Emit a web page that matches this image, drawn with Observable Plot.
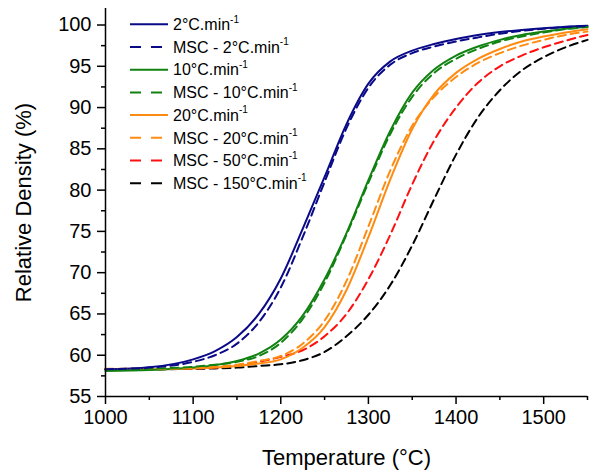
<!DOCTYPE html>
<html>
<head>
<meta charset="utf-8">
<script src="https://cdn.jsdelivr.net/npm/d3@7"></script>
<script src="https://cdn.jsdelivr.net/npm/@observablehq/plot@0.6"></script>
<style>
  html, body { margin: 0; padding: 0; background: #fff; }
  #chart { width: 594px; height: 471px; }
</style>
</head>
<body>
<div id="chart"></div>
<script>
// Temperature grid (°C)
const temps = [1000, 1050, 1100, 1125, 1150, 1175, 1200, 1225, 1250, 1275, 1300, 1325, 1350, 1375, 1400, 1425, 1450, 1475, 1500, 1525, 1550];

// Relative density (%) for each series
const exp2    = [58.3, 58.55, 59.5, 60.5, 62.2, 65.0, 69.3, 75.3, 81.6, 88.0, 92.9, 95.6, 96.9, 97.7, 98.3, 98.8, 99.15, 99.4, 99.6, 99.8, 99.9];
const msc2    = [58.3, 58.5, 59.2, 60.0, 61.4, 64.0, 68.2, 74.3, 81.0, 87.5, 92.4, 95.2, 96.6, 97.4, 98.0, 98.5, 98.95, 99.3, 99.55, 99.75, 99.85];
const exp10   = [58.1, 58.2, 58.5, 58.8, 59.3, 60.2, 61.9, 64.8, 69.2, 74.8, 81.2, 87.2, 91.8, 94.6, 96.3, 97.4, 98.2, 98.8, 99.2, 99.55, 99.8];
const msc10   = [58.25, 58.35, 58.6, 58.85, 59.2, 59.9, 61.5, 64.4, 68.8, 74.6, 80.9, 86.8, 91.3, 94.2, 95.9, 97.1, 98.0, 98.6, 99.1, 99.5, 99.75];
const exp20   = [58.3, 58.3, 58.4, 58.5, 58.7, 59.0, 59.5, 60.9, 63.4, 67.9, 74.3, 81.3, 87.4, 91.6, 94.2, 95.9, 97.1, 98.0, 98.6, 99.1, 99.5];
const msc20   = [58.35, 58.35, 58.45, 58.6, 58.85, 59.3, 59.9, 61.4, 64.2, 69.0, 75.6, 82.4, 87.8, 91.3, 93.7, 95.4, 96.6, 97.5, 98.2, 98.8, 99.2];
const msc50   = [58.3, 58.3, 58.4, 58.5, 58.8, 59.2, 59.8, 60.6, 62.3, 65.0, 69.2, 74.6, 80.7, 86.0, 90.0, 93.0, 95.0, 96.3, 97.3, 98.1, 98.8];
const msc150  = [58.3, 58.3, 58.35, 58.4, 58.5, 58.7, 58.9, 59.4, 60.4, 62.3, 64.9, 68.5, 73.3, 78.9, 84.3, 88.8, 92.1, 94.5, 96.1, 97.3, 98.2];

// Series names (legend order) and styling
const seriesNames = ["2°C.min", "MSC - 2°C.min", "10°C.min", "MSC - 10°C.min", "20°C.min", "MSC - 20°C.min", "MSC - 50°C.min", "MSC - 150°C.min"];
const seriesValues = [exp2, msc2, exp10, msc10, exp20, msc20, msc50, msc150];
const seriesColors = ["#0a0a88", "#0a0a88", "#118211", "#118211", "#ff8c12", "#ff8c12", "#ff1010", "#000000"];
const seriesDashed = [false, true, false, true, false, true, true, true];

// Axis ticks
const xTicks = [1000, 1100, 1200, 1300, 1400, 1500];
const xMinor = [1050, 1150, 1250, 1350, 1450, 1550];
const yTicks = [55, 60, 65, 70, 75, 80, 85, 90, 95, 100];
const yMinor = [57.5, 62.5, 67.5, 72.5, 77.5, 82.5, 87.5, 92.5, 97.5];

const xLabel = "Temperature (°C)";
const yLabel = "Relative Density (%)";

const rows = [];
seriesNames.forEach((name, i) => {
  temps.forEach((t, j) => rows.push({series: name, idx: i, t, v: seriesValues[i][j]}));
});

// drawing order: solid first, then dashed on top
const order = [7, 6, 4, 2, 0, 5, 3, 1];
const lineMarks = order.map(i => Plot.line(rows.filter(d => d.idx === i), {
  x: "t", y: "v",
  stroke: seriesColors[i],
  strokeWidth: 2,
  strokeDasharray: seriesDashed[i] ? "8,5" : null,
  curve: "monotone-x"
}));

const font = "'Liberation Sans', Arial, Helvetica, sans-serif";

const svg = Plot.plot({
  width: 594,
  height: 471,
  marginLeft: 105,
  marginRight: 7,
  marginTop: 8,
  marginBottom: 75,
  style: {fontFamily: font, fontSize: "20px", color: "#000", background: "#fff", overflow: "visible"},
  x: {domain: [1000, 1550]},
  y: {domain: [55, 102]},
  marks: [
    ...lineMarks,
    Plot.axisX({ticks: xTicks, tickSize: 8, tickPadding: 5, tickFormat: d => String(d), fontSize: 20, label: null, strokeWidth: 1.5}),
    Plot.axisX({ticks: xMinor, tickSize: 4, tickFormat: () => "", label: null, strokeWidth: 1.5}),
    Plot.axisY({ticks: yTicks, tickSize: 8, tickPadding: 6, tickFormat: d => String(d), fontSize: 20, label: null, strokeWidth: 1.5}),
    Plot.axisY({ticks: yMinor, tickSize: 4, tickFormat: () => "", label: null, strokeWidth: 1.5}),
    Plot.ruleY([55], {strokeWidth: 1.5}),
    Plot.ruleX([1000], {strokeWidth: 1.5}),
    Plot.text([xLabel], {frameAnchor: "bottom", dy: 61, lineAnchor: "middle", textAnchor: "middle", fontSize: 22, fill: "#000"}),
    Plot.text([yLabel], {frameAnchor: "left", dx: -82, rotate: -90, lineAnchor: "middle", textAnchor: "middle", fontSize: 22, fill: "#000"})
  ]
});

// Legend (inside top-left of the frame)
const g = d3.select(svg).append("g")
  .attr("font-family", font).attr("font-size", 16).attr("text-anchor", "start");
seriesNames.forEach((name, i) => {
  const y = 24.3 + i * 22.7;
  g.append("line")
    .attr("x1", 130).attr("x2", 168).attr("y1", y).attr("y2", y)
    .attr("stroke", seriesColors[i]).attr("stroke-width", 2)
    .attr("stroke-dasharray", seriesDashed[i] ? "11,10" : null);
  const t = g.append("text").attr("x", 173).attr("y", y).attr("dy", "0.36em")
    .attr("fill", "#000").attr("text-anchor", "start");
  t.append("tspan").text(name);
  t.append("tspan").attr("font-size", 10).attr("dy", "-0.75em").text("-1");
});

document.getElementById("chart").appendChild(svg);
</script>
</body>
</html>
